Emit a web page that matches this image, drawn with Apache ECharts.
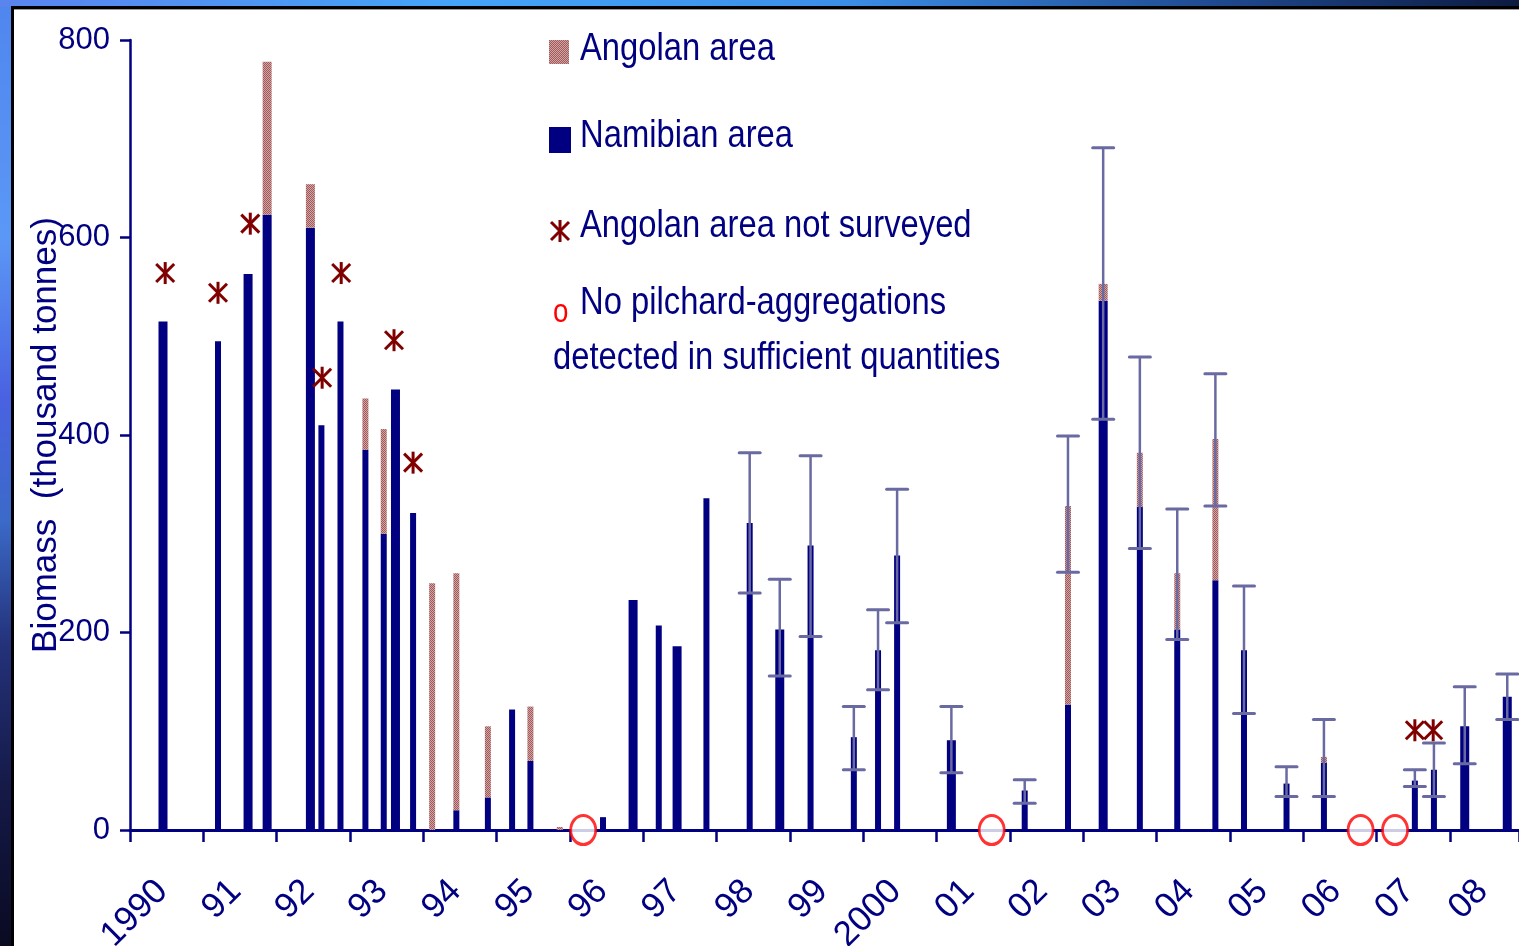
<!DOCTYPE html>
<html>
<head>
<meta charset="utf-8">
<script src="https://cdn.jsdelivr.net/npm/echarts@6/dist/echarts.min.js"></script>
<style>
html,body{margin:0;padding:0;background:#fff;}
#chart{width:1519px;height:946px;}
</style>
</head>
<body>
<div id="chart"></div>
<script>
// ---------------- DATA ----------------
// survey dates (decimal years)
const surveyDate = [1990.45, 1991.20, 1991.61, 1991.87, 1992.46, 1992.61, 1992.87, 1993.21, 1993.46, 1993.62,
  1993.86, 1994.12, 1994.45, 1994.88, 1995.21, 1995.46, 1995.86, 1996.45, 1996.86, 1997.21,
  1997.46, 1997.86, 1998.45, 1998.86, 1999.28, 1999.87, 2000.20, 2000.46, 2001.20, 2002.20,
  2002.79, 2003.27, 2003.77, 2004.28, 2004.80, 2005.19, 2005.77, 2006.28, 2007.52, 2007.78,
  2008.20, 2008.78];
// Namibian area biomass (thousand tonnes)
const namibian = [515, 495, 563, 623, 610, 410, 515, 385, 300, 446,
  321, 0, 20, 33, 122, 70, 0, 13, 233, 207,
  186, 336, 311, 203, 288, 94, 182, 278, 91, 40,
  127, 536, 327, 203, 253, 182, 47, 68, 50, 61,
  105, 135];
// Angolan area biomass (thousand tonnes), stacked on Namibian
const angolan = [0, 0, 0, 155, 44, 0, 0, 52, 106, 0,
  0, 250, 240, 72, 0, 55, 3, 0, 0, 0,
  0, 0, 0, 0, 0, 0, 0, 0, 0, 0,
  201, 17, 55, 57, 143, 0, 0, 6, 0, 0,
  0, 0];
// error bars
const errDate = [1998.45, 1998.86, 1999.28, 1999.87, 2000.20, 2000.46, 2001.20, 2002.20, 2002.79, 2003.27,
  2003.77, 2004.28, 2004.80, 2005.19, 2005.77, 2006.28, 2007.52, 2007.78, 2008.20, 2008.78];
const errLow  = [240, 156, 196, 61, 142, 210, 58, 27, 261, 416, 285, 193, 328, 118, 34, 34, 44, 34, 67, 112];
const errHigh = [382, 254, 379, 125, 223, 345, 125, 51, 399, 691, 479, 325, 462, 247, 64, 112, 61, 88, 145, 158];
// Angolan area not surveyed markers
const notSurveyedDate  = [1990.48, 1991.20, 1991.64, 1992.62, 1992.88, 1993.60, 1993.86, 2007.52, 2007.77];
const notSurveyedValue = [564, 544, 614, 458, 564, 496, 372, 101, 101];
// no pilchard aggregations detected
const noAggDate = [1996.18, 2001.75, 2006.78, 2007.25];
const noAggValue = [0, 0, 0, 0];
// x tick labels
const yearTicks  = [1990, 1991, 1992, 1993, 1994, 1995, 1996, 1997, 1998, 1999, 2000, 2001, 2002, 2003, 2004, 2005, 2006, 2007, 2008];
const yearLabels = ['1990', '91', '92', '93', '94', '95', '96', '97', '98', '99', '2000', '01', '02', '03', '04', '05', '06', '07', '08'];
const yTicks = [0, 200, 400, 600, 800];
const legendLabels = ['Angolan area', 'Namibian area', 'Angolan area not surveyed', 'No pilchard-aggregations', 'detected in sufficient quantities'];
const yAxisTitle = 'Biomass  (thousand tonnes)';

// ---------------- STYLE ----------------
const NAVY = '#000080';
const ERR = '#6a6aa2';
const STAR = '#800000';
const SANS = "'Liberation Sans',Arial,sans-serif";
const wideBarDates = [1990.45, 1991.61, 1991.87, 1992.46, 1993.62, 1996.86, 1997.46, 1998.86, 2001.20, 2003.27, 2008.20, 2008.78];
const X_MIN = 1990, X_MAX = 2008.94;
const LABEL_SHIFT = 0.44;
const LEG_SX = 0.84;

function makePattern() {
  const c = document.createElement('canvas');
  c.width = 2; c.height = 2;
  const g = c.getContext('2d');
  g.fillStyle = '#d4a4a4'; g.fillRect(0, 0, 2, 2);
  g.fillStyle = '#9e5a5a'; g.fillRect(0, 0, 1, 1); g.fillRect(1, 1, 1, 1);
  return c;
}
const angPattern = {image: makePattern(), repeat: 'repeat'};

function asteriskShapes(cx, cy, color) {
  const hw = 9, hh = 11;
  const st = {stroke: color, lineWidth: 3};
  return [
    {type: 'line', shape: {x1: cx, y1: cy - hh, x2: cx, y2: cy + hh}, style: st},
    {type: 'line', shape: {x1: cx - hw, y1: cy - hh + 2, x2: cx + hw, y2: cy + hh - 2}, style: st},
    {type: 'line', shape: {x1: cx - hw, y1: cy + hh - 2, x2: cx + hw, y2: cy - hh + 2}, style: st}
  ];
}

function legendText(txt, x, y, color, size) {
  return {type: 'text', x: x, y: y, scaleX: LEG_SX, z: 50,
    style: {text: txt, fill: color, font: size + 'px ' + SANS, verticalAlign: 'middle'}};
}

const chart = echarts.init(document.getElementById('chart'), null, {renderer: 'canvas'});

const barData = surveyDate.map((d, i) => [d, namibian[i], angolan[i], wideBarDates.includes(d) ? 1 : 0]);
const errData = errDate.map((d, i) => [d, errLow[i], errHigh[i]]);
const starData = notSurveyedDate.map((d, i) => [d, notSurveyedValue[i]]);
const circleData = noAggDate.map((d, i) => [d, noAggValue[i]]);

const option = {
  backgroundColor: '#ffffff',
  animation: false,
  grid: {left: 130, right: 0, top: 40, bottom: 116, containLabel: false, outerBoundsMode: 'none'},
  xAxis: [{
    type: 'value', min: X_MIN, max: X_MAX, interval: 1,
    axisLine: {show: true, onZero: false, lineStyle: {color: NAVY, width: 3}},
    axisTick: {show: true, inside: false, length: 12, lineStyle: {color: NAVY, width: 2.5}},
    axisLabel: {show: false},
    splitLine: {show: false}
  }, {
    type: 'value', position: 'bottom', offset: 0,
    min: X_MIN - LABEL_SHIFT, max: X_MAX - LABEL_SHIFT,
    axisLine: {show: false}, axisTick: {show: false}, splitLine: {show: false},
    axisLabel: {
      show: true, customValues: yearTicks, rotate: 45, margin: 56, hideOverlap: false,
      showMinLabel: true, showMaxLabel: true,
      color: NAVY, fontSize: 35, fontFamily: SANS,
      formatter: v => yearLabels[yearTicks.indexOf(Math.round(v))] || ''
    }
  }],
  yAxis: {
    type: 'value', min: 0, max: 800, interval: 200,
    name: yAxisTitle, nameLocation: 'middle', nameGap: 66, nameRotate: 90, nameMoveOverlap: false,
    nameTextStyle: {color: NAVY, fontSize: 35, fontFamily: SANS},
    axisLine: {show: true, lineStyle: {color: NAVY, width: 2.5}},
    axisTick: {show: true, inside: false, length: 10, lineStyle: {color: NAVY, width: 2.5}},
    axisLabel: {color: NAVY, fontSize: 31, fontFamily: SANS, margin: 20,
      customValues: yTicks},
    splitLine: {show: false}
  },
  series: [{
    type: 'custom', name: 'bars', data: barData, encode: {x: 0, y: 1}, clip: false, z: 2,
    renderItem: function (params, api) {
      const x = api.value(0), nam = api.value(1), ang = api.value(2), wide = api.value(3);
      const base = api.coord([x, 0]);
      const t1 = api.coord([x, nam]);
      const t2 = api.coord([x, nam + ang]);
      const w = wide ? 9 : 6;
      const ch = [];
      if (nam > 0) ch.push({type: 'rect', shape: {x: base[0] - w / 2, y: t1[1], width: w, height: base[1] - t1[1]}, style: {fill: NAVY}});
      if (ang > 0) ch.push({type: 'rect', shape: {x: base[0] - w / 2, y: t2[1], width: w, height: t1[1] - t2[1]}, style: {fill: angPattern}});
      return {type: 'group', children: ch};
    }
  }, {
    type: 'custom', name: 'errors', data: errData, encode: {x: 0, y: 2}, clip: false, z: 3,
    renderItem: function (params, api) {
      const x = api.value(0);
      const lo = api.coord([x, api.value(1)]);
      const hi = api.coord([x, api.value(2)]);
      const cw = 10.5;
      return {type: 'group', children: [
        {type: 'line', shape: {x1: lo[0], y1: lo[1], x2: hi[0], y2: hi[1]}, style: {stroke: ERR, lineWidth: 2.5}},
        {type: 'line', shape: {x1: lo[0] - cw, y1: lo[1], x2: lo[0] + cw, y2: lo[1]}, style: {stroke: ERR, lineWidth: 3, lineCap: 'round'}},
        {type: 'line', shape: {x1: hi[0] - cw, y1: hi[1], x2: hi[0] + cw, y2: hi[1]}, style: {stroke: ERR, lineWidth: 3, lineCap: 'round'}}
      ]};
    }
  }, {
    type: 'custom', name: 'Angolan area not surveyed', data: starData, encode: {x: 0, y: 1}, clip: false, z: 4,
    renderItem: function (params, api) {
      const p = api.coord([api.value(0), api.value(1)]);
      return {type: 'group', children: asteriskShapes(p[0], p[1], STAR)};
    }
  }, {
    type: 'scatter', name: 'No pilchard-aggregations', data: circleData, clip: false, z: 5,
    symbol: 'circle', symbolSize: [25, 29],
    itemStyle: {color: '#ffffff', borderColor: '#ff0000', borderWidth: 3}
  }],
  graphic: [
    // slide frame
    {type: 'rect', left: 0, top: 0, z: 100, shape: {width: 12, height: 946}, style: {fill: new echarts.graphic.LinearGradient(0, 0, 0, 1, [
      {offset: 0, color: '#4f86ee'}, {offset: 0.25, color: '#5b98f6'}, {offset: 0.42, color: '#4a62e2'},
      {offset: 0.55, color: '#3b6ac8'}, {offset: 0.68, color: '#24327a'}, {offset: 0.83, color: '#151a48'}, {offset: 1, color: '#0a0a22'}])}},
    {type: 'rect', left: 0, top: 0, z: 100, shape: {width: 1519, height: 7}, style: {fill: new echarts.graphic.LinearGradient(0, 0, 1, 0, [
      {offset: 0, color: '#5a84ee'}, {offset: 0.3, color: '#44a4f8'}, {offset: 0.55, color: '#3c8fe8'},
      {offset: 0.8, color: '#1f4a90'}, {offset: 1, color: '#0c1a40'}])}},
    {type: 'rect', left: 11, top: 6, z: 101, shape: {width: 3, height: 940}, style: {fill: '#000000'}},
    {type: 'rect', left: 11, top: 6, z: 101, shape: {width: 1508, height: 3}, style: {fill: '#000000'}},
    {type: 'rect', left: 14, top: 9, z: 101, shape: {width: 1505, height: 1}, style: {fill: '#9a9a9a'}},
    // legend
    {type: 'rect', left: 549, top: 40, shape: {width: 20, height: 24}, style: {fill: angPattern}},
    legendText(legendLabels[0], 580, 49, NAVY, 39),
    {type: 'rect', left: 549, top: 127, shape: {width: 22, height: 26}, style: {fill: NAVY}},
    legendText(legendLabels[1], 580, 136, NAVY, 39),
    {type: 'group', children: asteriskShapes(560, 231, STAR)},
    legendText(legendLabels[2], 580, 226, NAVY, 39),
    legendText('o', 553, 313, '#ff0000', 33),
    legendText(legendLabels[3], 580, 303, NAVY, 39),
    legendText(legendLabels[4], 553, 358, NAVY, 39)
  ]
};
chart.setOption(option);
</script>
</body>
</html>
